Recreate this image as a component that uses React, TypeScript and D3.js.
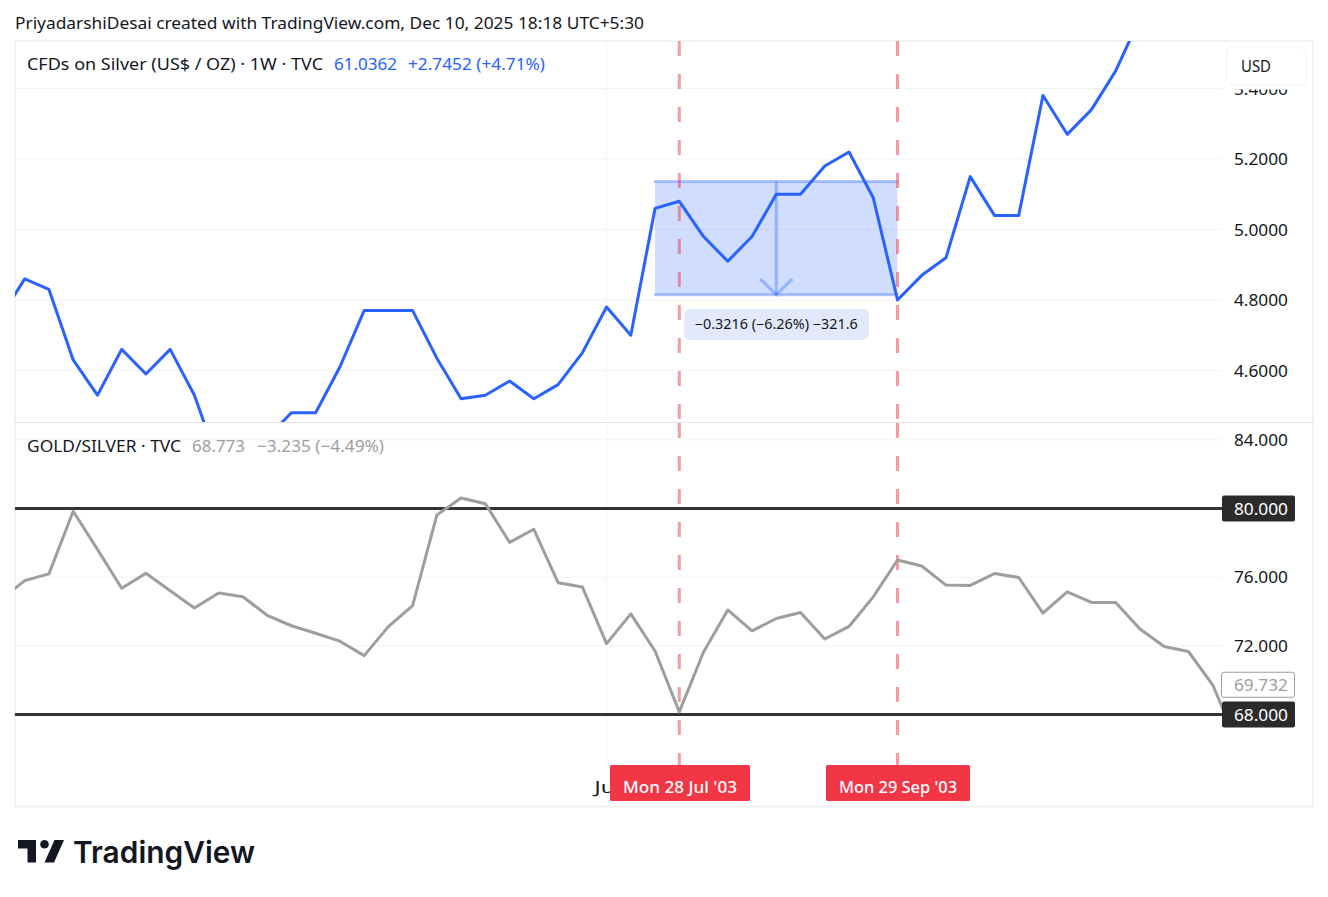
import React from "react";
import * as d3 from "d3";

// weekly closes, Mondays starting 13 Jan 2003
const startDate = new Date(Date.UTC(2003, 0, 13));
const silverValues = [
  4.75, 4.86, 4.83, 4.63, 4.53, 4.66, 4.59, 4.66, 4.53, 4.335, 4.34, 4.41, 4.48, 4.48, 4.61, 4.77,
  4.77, 4.77, 4.635, 4.52, 4.53, 4.57, 4.52, 4.56, 4.65, 4.78, 4.7, 5.06, 5.08, 4.98, 4.91, 4.98,
  5.1, 5.1, 5.18, 5.22, 5.09, 4.8, 4.87, 4.92, 5.15, 5.04, 5.04, 5.38, 5.27, 5.34, 5.45, 5.6,
];
const ratioValues = [
  74.67, 75.8, 76.19, 79.84, 77.62, 75.35, 76.23, 75.21, 74.2, 75.08, 74.86, 73.78, 73.17, 72.73,
  72.27, 71.43, 73.12, 74.34, 79.62, 80.61, 80.28, 78.03, 78.79, 75.68, 75.43, 72.13, 73.86, 71.7,
  68.15, 71.64, 74.09, 72.87, 73.59, 73.94, 72.4, 73.13, 74.85, 77.0, 76.65, 75.54, 75.52, 76.21,
  75.98, 73.91, 75.14, 74.53, 74.53, 72.98, 71.96, 71.67, 69.732, 66.4,
];
const silverTicks = [4.6, 4.8, 5.0, 5.2, 5.4];
const ratioTicks = [72, 76, 84];
const ratioLevels = [80, 68];
const ratioLast = 69.732;
const markerDates = [new Date(Date.UTC(2003, 6, 28)), new Date(Date.UTC(2003, 8, 29))];
const julTick = new Date(Date.UTC(2003, 6, 7));
const measureFrom = 5.1362;
const measureTo = 4.8146;
const measureStart = new Date(Date.UTC(2003, 6, 21));
const measureMid = new Date(Date.UTC(2003, 7, 25));

const BLUE = "#2962ff";
const GREY = "#9e9e9e";
const DARK = "#131722";
const GRID = "#f2f3f7";
const RED = "#f23645";
const FONT = "'Noto Sans', sans-serif";

const plotLeft = 15;
const plotRight = 1222;

const x = d3.scaleUtc()
  .domain(markerDates)
  .range([679.3, 897.5]);
const ySilver = d3.scaleLinear().domain([4.6, 5.2]).range([370.5, 159]);
const yRatio = d3.scaleLinear().domain([80, 68]).range([508.5, 714.5]);

const dateAt = (i: number) => d3.utcMonday.offset(startDate, i);
const silverLine = d3.line<number>().x((d, i) => x(dateAt(i))).y((d) => ySilver(d));
const ratioLine = d3.line<number>().x((d, i) => x(dateAt(i))).y((d) => yRatio(d));
const markerLabel = d3.utcFormat("%a %d %b '%y");

function Fit(props: any) {
  // text squeezed to the width it has on the reference
  const { w, children, ...rest } = props;
  return (
    <text fontFamily={FONT} fontSize={16} textLength={w} lengthAdjust="spacingAndGlyphs" {...rest}>
      {children}
    </text>
  );
}

export default function App() {
  const topY = ySilver(measureFrom);
  const botY = ySilver(measureTo);
  const mx0 = x(measureStart);
  const mx1 = x(markerDates[1]);
  const mid = x(measureMid);

  return (
    <svg width={1328} height={897} style={{ position: "absolute", left: 0, top: 0, background: "#fff" }}>
      <defs>
        <clipPath id="paneTop"><rect x={plotLeft} y={41} width={plotRight - plotLeft} height={381} /></clipPath>
        <clipPath id="paneBot"><rect x={plotLeft} y={423} width={plotRight - plotLeft} height={342} /></clipPath>
      </defs>

      <Fit x={15} y={28.5} w={629} fill={DARK}>PriyadarshiDesai created with TradingView.com, Dec 10, 2025 18:18 UTC+5:30</Fit>

      <rect x={15} y={41} width={1298} height={765.5} fill="#fff" stroke="#f3f3f3" strokeWidth={2} />

      {/* grid */}
      {silverTicks.map((t) => (
        <line key={t} x1={plotLeft} x2={plotRight} y1={ySilver(t)} y2={ySilver(t)} stroke={GRID} />
      ))}
      {ratioTicks.map((t) => (
        <line key={t} x1={plotLeft} x2={plotRight} y1={yRatio(t)} y2={yRatio(t)} stroke={GRID} />
      ))}
      <line x1={x(julTick)} x2={x(julTick)} y1={41} y2={765} stroke={GRID} />
      <line x1={15} x2={1313} y1={422.5} y2={422.5} stroke="#e0e3eb" />

      {/* measure tool */}
      <rect x={mx0} y={topY} width={mx1 - mx0} height={botY - topY} fill={BLUE} fillOpacity={0.22} />
      <g stroke={BLUE} strokeOpacity={0.35} strokeWidth={3} fill="none">
        <line x1={mx0 - 1} x2={mx1 + 1} y1={topY} y2={topY} />
        <line x1={mx0 - 1} x2={mx1 + 1} y1={botY} y2={botY} />
        <line x1={mid} x2={mid} y1={topY} y2={botY} />
        <path d={`M${mid - 16},${botY - 16}L${mid},${botY}L${mid + 16},${botY - 16}`} />
      </g>

      {/* red markers, the dash pattern restarts in each pane */}
      {markerDates.map((d) => (
        <g key={+d} stroke={RED} strokeOpacity={0.5} strokeWidth={3} strokeDasharray="15 18">
          <line x1={x(d)} x2={x(d)} y1={41} y2={422} />
          <line x1={x(d)} x2={x(d)} y1={423} y2={765} />
        </g>
      ))}

      {/* levels */}
      {ratioLevels.map((l) => (
        <line key={l} x1={plotLeft} x2={plotRight} y1={yRatio(l)} y2={yRatio(l)} stroke="#333333" strokeWidth={3} />
      ))}

      <g clipPath="url(#paneTop)">
        <path d={silverLine(silverValues) as string} fill="none" stroke={BLUE} strokeWidth={3} strokeLinejoin="round" />
      </g>
      <g clipPath="url(#paneBot)">
        <path d={ratioLine(ratioValues) as string} fill="none" stroke={GREY} strokeWidth={3} strokeLinejoin="round" />
      </g>

      {/* measure label */}
      <rect x={684} y={309} width={185} height={31} rx={6} fill="#e3e9fb" />
      <Fit x={mid} y={329} w={163} fontSize={13.5} textAnchor="middle" fill={DARK}>−0.3216 (−6.26%) −321.6</Fit>

      {/* legends */}
      <Fit x={27} y={69.5} w={296} fill={DARK}>CFDs on Silver (US$ / OZ) · 1W · TVC</Fit>
      <Fit x={334} y={69.5} w={63} fill={BLUE}>61.0362</Fit>
      <Fit x={408} y={69.5} w={137} fill={BLUE}>+2.7452 (+4.71%)</Fit>
      <Fit x={27} y={451.5} w={154} fill={DARK}>GOLD/SILVER · TVC</Fit>
      <Fit x={192} y={451.5} w={53} fill={GREY}>68.773</Fit>
      <Fit x={257} y={451.5} w={127} fill={GREY}>−3.235 (−4.49%)</Fit>

      {/* price axes */}
      {silverTicks.map((t) => (
        <Fit key={t} x={1234} y={ySilver(t) + 6} w={54} fill={DARK}>{d3.format(".4f")(t)}</Fit>
      ))}
      {ratioTicks.map((t) => (
        <Fit key={t} x={1234} y={yRatio(t) + 6} w={54} fill={DARK}>{d3.format(".3f")(t)}</Fit>
      ))}
      {/* USD button sits on top of the 5.4000 tick, with a white halo */}
      <rect x={1224} y={45} width={84} height={44.5} fill="#fff" />
      <rect x={1226} y={47} width={80} height={38} rx={6} fill="#fff" stroke="#f0f1f4" />
      <Fit x={1241} y={71.5} w={30} fill={DARK}>USD</Fit>

      {ratioLevels.map((l) => (
        <g key={l}>
          <rect x={1222} y={yRatio(l) - 13} width={73} height={26} rx={2} fill="#2b2b2b" />
          <Fit x={1234} y={yRatio(l) + 6} w={54} fill="#fff">{d3.format(".3f")(l)}</Fit>
        </g>
      ))}
      <rect x={1221.5} y={yRatio(ratioLast) - 12.5} width={73} height={25} rx={2} fill="#fff" stroke={GREY} />
      <Fit x={1234} y={yRatio(ratioLast) + 6.5} w={54} fill={GREY}>{d3.format(".3f")(ratioLast)}</Fit>

      {/* time axis */}
      <Fit x={x(julTick) + 1} y={793} w={26} textAnchor="middle" fill={DARK}>Jul</Fit>
      {markerDates.map((d, i) => {
        const w = i === 0 ? 140 : 144;
        return (
          <g key={+d}>
            <rect x={Math.ceil(x(d) - w / 2)} y={765} width={w} height={36} rx={1.5} fill={RED} />
            <Fit x={Math.ceil(x(d) - w / 2) + w / 2} y={793} w={w - 26} textAnchor="middle" fill="#fff" fontWeight={500}>{markerLabel(d)}</Fit>
          </g>
        );
      })}

      {/* logo */}
      <g fill="#131722">
        <path d="M18,840H36V862.5H27.5V848.5H18Z" />
        <circle cx={44.5} cy={844.3} r={4.3} />
        <path d="M54.5,840H64L54,862.5H44.5Z" />
      </g>
      <text x={73} y={862.5} fontFamily="Inter, sans-serif" fontSize={30} fontWeight={600} fill="#131722" textLength={182} lengthAdjust="spacingAndGlyphs">TradingView</text>
    </svg>
  );
}
